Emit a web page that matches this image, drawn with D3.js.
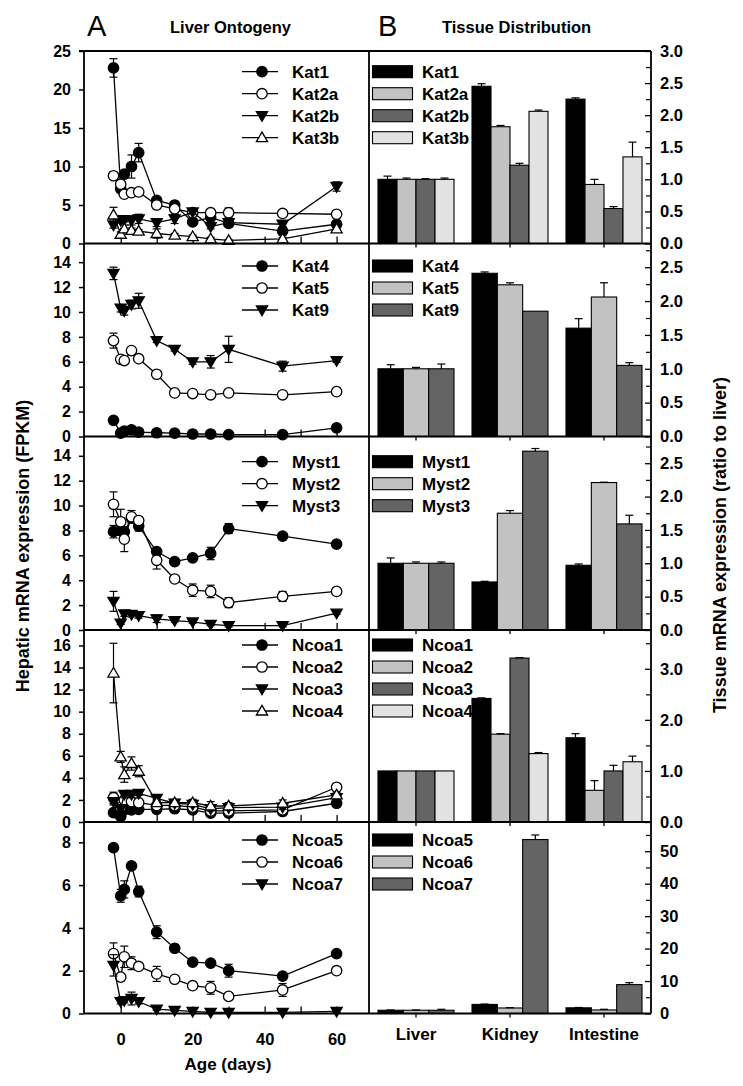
<!DOCTYPE html>
<html><head><meta charset="utf-8">
<script src="https://cdn.jsdelivr.net/npm/d3@7"></script>
<style>
body{margin:0;background:#fff}
text{font-family:"Liberation Sans",Arial,Helvetica,sans-serif;font-weight:bold;fill:#000}
</style>
</head><body>
<svg id="chart" width="743" height="1086"></svg>
<script>
// ---------- DATA ----------
const ages = [-2, 0, 1, 3, 5, 10, 15, 20, 25, 30, 45, 60];
const ageTicks = [0, 20, 40, 60];
const tissues = ["Liver", "Kidney", "Intestine"];

// Panel 1 (Kat1, Kat2a, Kat2b, Kat3b)
const kat1 = [22.8, 7.1, 9.0, 10.0, 11.8, 5.6, 5.0, 2.8, 3.4, 2.6, 1.6, 2.5];
const kat1Err = [1.2, 0.4, 0.4, 1.5, 1.2, 0.3, 0.2, 0.2, 0.3, 0.2, 0.2, 0.3];
const kat2a = [8.8, 7.7, 6.4, 6.6, 6.7, 5.0, 4.5, 4.0, 4.0, 4.0, 3.9, 3.8];
const kat2aErr = [0.3, 0.4, 0.3, 0.3, 0.3, 0.3, 0.3, 0.3, 0.3, 0.6, 0.3, 0.3];
const kat2b = [2.4, 3.0, 3.1, 3.0, 3.2, 2.7, 3.2, 4.1, 2.2, 2.7, 2.5, 7.4];
const kat2bErr = [0.4, 0.3, 0.3, 0.6, 0.6, 0.5, 0.6, 0.3, 0.3, 0.4, 0.3, 0.6];
const kat3b = [3.7, 1.2, 1.9, 1.7, 1.6, 1.3, 1.1, 0.9, 0.6, 0.4, 0.6, 1.9];
const kat3bErr = [1.0, 0.3, 0.5, 0.3, 0.2, 0.6, 0.2, 0.2, 0.2, 0.1, 0.2, 0.3];

// Panel 2 (Kat4, Kat5, Kat9)
const kat4 = [1.3, 0.27, 0.43, 0.54, 0.35, 0.3, 0.27, 0.2, 0.2, 0.15, 0.15, 0.7];
const kat4Err = [0.15, 0.05, 0.05, 0.05, 0.05, 0.05, 0.05, 0.05, 0.05, 0.05, 0.05, 0.05];
const kat5 = [7.7, 6.2, 6.1, 6.9, 6.25, 5.0, 3.5, 3.45, 3.35, 3.5, 3.35, 3.6];
const kat5Err = [0.6, 0.2, 0.2, 0.2, 0.2, 0.15, 0.15, 0.1, 0.1, 0.1, 0.1, 0.1];
const kat9 = [13.1, 10.3, 10.1, 10.6, 10.9, 7.7, 7.0, 6.0, 6.0, 7.0, 5.65, 6.1];
const kat9Err = [0.5, 0.3, 0.35, 0.35, 0.6, 0.15, 0.15, 0.2, 0.5, 1.05, 0.4, 0.15];

// Panel 3 (Myst1, Myst2, Myst3)
const myst1 = [7.9, 8.0, 7.9, 9.0, 8.35, 6.3, 5.5, 5.8, 6.15, 8.15, 7.55, 6.9];
const myst1Err = [0.5, 0.4, 0.3, 0.3, 0.4, 0.3, 0.2, 0.2, 0.5, 0.4, 0.2, 0.2];
const myst2 = [10.1, 8.7, 7.3, 9.1, 8.8, 5.6, 4.1, 3.2, 3.1, 2.2, 2.7, 3.1];
const myst2Err = [1.0, 1.0, 1.0, 0.5, 0.3, 0.7, 0.2, 0.5, 0.5, 0.4, 0.4, 0.2];
const myst3 = [2.3, 0.55, 1.3, 1.25, 1.15, 0.9, 0.75, 0.65, 0.45, 0.35, 0.35, 1.35];
const myst3Err = [0.8, 0.1, 0.2, 0.2, 0.2, 0.3, 0.1, 0.1, 0.1, 0.1, 0.1, 0.1];

// Panel 4 (Ncoa1..Ncoa4)
const ncoa1 = [0.85, 0.5, 1.1, 1.1, 1.15, 1.15, 1.2, 1.1, 0.8, 0.8, 0.95, 1.7];
const ncoa1Err = [0.1, 0.1, 0.1, 0.1, 0.1, 0.1, 0.1, 0.1, 0.1, 0.1, 0.1, 0.1];
const ncoa2 = [2.2, 1.3, 2.0, 1.85, 1.75, 1.5, 1.5, 1.35, 1.0, 1.0, 1.1, 3.15];
const ncoa2Err = [0.5, 0.3, 0.3, 0.2, 0.2, 0.2, 0.2, 0.2, 0.2, 0.2, 0.2, 0.1];
const ncoa3 = [1.85, 1.2, 2.5, 2.5, 2.6, 2.15, 1.7, 1.6, 1.2, 1.3, 1.35, 2.2];
const ncoa3Err = [0.3, 0.2, 0.3, 0.3, 0.2, 0.2, 0.2, 0.2, 0.2, 0.2, 0.2, 0.2];
const ncoa4 = [13.5, 5.9, 4.3, 5.3, 4.6, 1.75, 1.75, 1.75, 1.45, 1.45, 1.7, 2.45];
const ncoa4Err = [2.7, 0.5, 0.7, 0.6, 0.5, 0.3, 0.3, 0.3, 0.4, 0.3, 0.3, 0.2];

// Panel 5 (Ncoa5, Ncoa6, Ncoa7)
const ncoa5 = [7.75, 5.5, 5.8, 6.9, 5.7, 3.8, 3.05, 2.4, 2.35, 2.0, 1.75, 2.8];
const ncoa5Err = [0.1, 0.3, 0.4, 0.1, 0.25, 0.3, 0.1, 0.1, 0.1, 0.3, 0.1, 0.1];
const ncoa6 = [2.8, 1.7, 2.65, 2.35, 2.2, 1.85, 1.6, 1.3, 1.2, 0.8, 1.1, 2.0];
const ncoa6Err = [0.5, 0.1, 0.5, 0.3, 0.1, 0.35, 0.1, 0.1, 0.3, 0.1, 0.3, 0.1];
const ncoa7 = [2.25, 0.55, 0.6, 0.7, 0.55, 0.2, 0.15, 0.1, 0.05, 0.05, 0.05, 0.1];
const ncoa7Err = [0.5, 0.1, 0.1, 0.3, 0.1, 0.05, 0.05, 0.05, 0.05, 0.05, 0.05, 0.05];

// Tissue distribution (ratio to liver), values per tissue [Liver, Kidney, Intestine]
const tKat1 = [1.0, 2.45, 2.25],  tKat1Err = [0.05, 0.04, 0.02];
const tKat2a = [1.0, 1.82, 0.92], tKat2aErr = [0.02, 0.02, 0.08];
const tKat2b = [1.0, 1.22, 0.545], tKat2bErr = [0.01, 0.03, 0.03];
const tKat3b = [1.0, 2.06, 1.35], tKat3bErr = [0.02, 0.02, 0.23];
const tKat4 = [1.0, 2.41, 1.6],   tKat4Err = [0.06, 0.02, 0.14];
const tKat5 = [1.0, 2.24, 2.06],  tKat5Err = [0.02, 0.03, 0.21];
const tKat9 = [1.0, 1.85, 1.05],  tKat9Err = [0.07, 0.0, 0.04];
const tMyst1 = [1.0, 0.72, 0.97], tMyst1Err = [0.08, 0.01, 0.02];
const tMyst2 = [1.0, 1.75, 2.21], tMyst2Err = [0.02, 0.04, 0.005];
const tMyst3 = [1.0, 2.68, 1.59], tMyst3Err = [0.02, 0.04, 0.13];
const tNcoa1 = [1.0, 2.42, 1.65], tNcoa1Err = [0.0, 0.01, 0.08];
const tNcoa2 = [1.0, 1.72, 0.62], tNcoa2Err = [0.0, 0.01, 0.19];
const tNcoa3 = [1.0, 3.21, 1.0],  tNcoa3Err = [0.0, 0.01, 0.11];
const tNcoa4 = [1.0, 1.34, 1.18], tNcoa4Err = [0.0, 0.02, 0.11];
const tNcoa5 = [1.0, 2.8, 1.75],  tNcoa5Err = [0.1, 0.1, 0.1];
const tNcoa6 = [1.0, 1.7, 1.1],   tNcoa6Err = [0.1, 0.1, 0.2];
const tNcoa7 = [1.0, 53.6, 8.9],  tNcoa7Err = [0.3, 1.4, 0.6];

// Axis tick values
const leftTicks = [[0,5,10,15,20,25],[0,2,4,6,8,10,12,14],[0,2,4,6,8,10,12,14],[0,2,4,6,8,10,12,14,16],[0,2,4,6,8]];
const leftMax = [25, 15.5, 15.55, 17.4, 8.95];
const rightTicks = [[0,0.5,1,1.5,2,2.5,3],[0,0.5,1,1.5,2,2.5],[0,0.5,1,1.5,2,2.5],[0,1,2,3],[0,10,20,30,40,50]];
const rightMinorStep = [0.25, 0.25, 0.25, 0.5, 5];
const rightFmt = [".1f", ".1f", ".1f", ".1f", "d"];
const rightMax = [3, 2.85, 2.9, 3.76, 59];

// ---------- LAYOUT ----------
const svg = d3.select("#chart");
const xL0 = 84, xDiv = 369, xR1 = 651;
const rows = [51, 243.5, 436.5, 630, 822, 1013.5];
const legendY = [71.7, 266, 461.7, 645, 840];
const fills = {k: "#000000", l: "#c2c2c2", d: "#646464", v: "#e2e2e2"};

const lineSeries = [
  [{n:"Kat1",v:kat1,e:kat1Err,m:"fc"},{n:"Kat2a",v:kat2a,e:kat2aErr,m:"oc"},{n:"Kat2b",v:kat2b,e:kat2bErr,m:"ft"},{n:"Kat3b",v:kat3b,e:kat3bErr,m:"ot"}],
  [{n:"Kat4",v:kat4,e:kat4Err,m:"fc"},{n:"Kat5",v:kat5,e:kat5Err,m:"oc"},{n:"Kat9",v:kat9,e:kat9Err,m:"ft"}],
  [{n:"Myst1",v:myst1,e:myst1Err,m:"fc"},{n:"Myst2",v:myst2,e:myst2Err,m:"oc"},{n:"Myst3",v:myst3,e:myst3Err,m:"ft"}],
  [{n:"Ncoa1",v:ncoa1,e:ncoa1Err,m:"fc"},{n:"Ncoa2",v:ncoa2,e:ncoa2Err,m:"oc"},{n:"Ncoa3",v:ncoa3,e:ncoa3Err,m:"ft"},{n:"Ncoa4",v:ncoa4,e:ncoa4Err,m:"ot"}],
  [{n:"Ncoa5",v:ncoa5,e:ncoa5Err,m:"fc"},{n:"Ncoa6",v:ncoa6,e:ncoa6Err,m:"oc"},{n:"Ncoa7",v:ncoa7,e:ncoa7Err,m:"ft"}]
];
const barSeries = [
  [{n:"Kat1",v:tKat1,e:tKat1Err,c:"k"},{n:"Kat2a",v:tKat2a,e:tKat2aErr,c:"l"},{n:"Kat2b",v:tKat2b,e:tKat2bErr,c:"d"},{n:"Kat3b",v:tKat3b,e:tKat3bErr,c:"v"}],
  [{n:"Kat4",v:tKat4,e:tKat4Err,c:"k"},{n:"Kat5",v:tKat5,e:tKat5Err,c:"l"},{n:"Kat9",v:tKat9,e:tKat9Err,c:"d"}],
  [{n:"Myst1",v:tMyst1,e:tMyst1Err,c:"k"},{n:"Myst2",v:tMyst2,e:tMyst2Err,c:"l"},{n:"Myst3",v:tMyst3,e:tMyst3Err,c:"d"}],
  [{n:"Ncoa1",v:tNcoa1,e:tNcoa1Err,c:"k"},{n:"Ncoa2",v:tNcoa2,e:tNcoa2Err,c:"l"},{n:"Ncoa3",v:tNcoa3,e:tNcoa3Err,c:"d"},{n:"Ncoa4",v:tNcoa4,e:tNcoa4Err,c:"v"}],
  [{n:"Ncoa5",v:tNcoa5,e:tNcoa5Err,c:"k"},{n:"Ncoa6",v:tNcoa6,e:tNcoa6Err,c:"l"},{n:"Ncoa7",v:tNcoa7,e:tNcoa7Err,c:"d"}]
];

const x = d3.scaleLinear().domain([-10.2, 69]).range([xL0, xDiv]);
const xBand = d3.scaleBand().domain(tissues).range([xDiv, xR1]).padding(0);

function marker(g, type, cx, cy) {
  const sw = 1.3;
  if (type === "fc" || type === "oc") {
    g.append("circle").attr("cx", cx).attr("cy", cy).attr("r", 5.2)
      .attr("fill", type === "fc" ? "#000" : "#fff").attr("stroke", "#000").attr("stroke-width", sw);
  } else {
    const s = 5.6;
    const pts = type === "ft"
      ? [[cx - s, cy - 4], [cx + s, cy - 4], [cx, cy + 5.6]]
      : [[cx - s, cy + 4], [cx + s, cy + 4], [cx, cy - 5.6]];
    g.append("path").attr("d", d3.line()(pts) + "Z")
      .attr("fill", type === "ft" ? "#000" : "#fff").attr("stroke", "#000").attr("stroke-width", sw);
  }
}

for (let p = 0; p < 5; p++) {
  const top = rows[p], bot = rows[p + 1];
  const y = d3.scaleLinear().domain([0, leftMax[p]]).range([bot, top]);
  const yr = d3.scaleLinear().domain([0, rightMax[p]]).range([bot, top]);

  // ---- left: line chart ----
  const gl = svg.append("g");
  const xt = gl.append("g").attr("transform", `translate(0,${bot})`)
    .call(d3.axisBottom(x).tickValues(d3.range(0, 61, 10)).tickSize(-7).tickFormat(p === 4 ? (d => (d % 20 === 0 ? d : "")) : () => ""));
  xt.select(".domain").remove();
  xt.selectAll("line").attr("stroke-width", 1.3);
  xt.selectAll("text").attr("font-size", 16.5).attr("dy", "1.35em").attr("font-weight", "bold");
  if (p === 4) xt.selectAll("text").attr("transform", "translate(0,6)");

  const ya = gl.append("g").attr("transform", `translate(${xL0},0)`)
    .call(d3.axisLeft(y).tickValues(leftTicks[p]).tickSize(5).tickPadding(8));
  ya.select(".domain").remove();
  ya.selectAll("line").attr("stroke-width", 1.5);
  ya.selectAll("text").attr("font-size", 16).attr("font-weight", "bold");

  const ser = lineSeries[p];
  ser.forEach(s => {
    const g = gl.append("g");
    const pts = ages.map((a, i) => [x(a), y(s.v[i])]);
    g.append("path").attr("d", d3.line()(pts)).attr("fill", "none").attr("stroke", "#000").attr("stroke-width", 1.3);
    ages.forEach((a, i) => {
      const cx = x(a), y1 = y(s.v[i] + s.e[i]), y2 = y(Math.max(0, s.v[i] - s.e[i]));
      g.append("line").attr("x1", cx).attr("x2", cx).attr("y1", y1).attr("y2", y2).attr("stroke", "#000").attr("stroke-width", 1.2);
      [y1, y2].forEach(yy => g.append("line").attr("x1", cx - 4).attr("x2", cx + 4).attr("y1", yy).attr("y2", yy).attr("stroke", "#000").attr("stroke-width", 1.2));
    });
    ages.forEach((a, i) => marker(g, s.m, x(a), y(s.v[i])));
  });
  // legend left
  ser.forEach((s, i) => {
    const ly = legendY[p] + i * 22;
    gl.append("line").attr("x1", 242).attr("x2", 278).attr("y1", ly).attr("y2", ly).attr("stroke", "#000").attr("stroke-width", 1.3);
    marker(gl, s.m, 262, ly);
    gl.append("text").attr("x", 292).attr("y", ly + 6).attr("font-size", 17).text(s.n);
  });

  // ---- right: bar chart ----
  const gr = svg.append("g");
  const bs = barSeries[p];
  // legend right (drawn beneath the bars)
  bs.forEach((s, i) => {
    const ly = legendY[p] + i * 22;
    gr.append("rect").attr("x", 372.5).attr("y", ly - 6).attr("width", 40).attr("height", 12)
      .attr("fill", fills[s.c]).attr("stroke", "#000").attr("stroke-width", 1.1);
    gr.append("text").attr("x", 422).attr("y", ly + 6).attr("font-size", 17).text(s.n);
  });
  const inner = d3.scaleBand().domain(bs.map(s => s.n)).range([9, 85]).padding(0);
  bs.forEach(s => {
    tissues.forEach((t, i) => {
      const bx = xBand(t) + inner(s.n), bw = inner.bandwidth();
      gr.append("rect").attr("x", bx).attr("y", yr(s.v[i])).attr("width", bw).attr("height", yr(0) - yr(s.v[i]))
        .attr("fill", fills[s.c]).attr("stroke", "#000").attr("stroke-width", 1.1);
      if (s.e[i] > 0) {
        const cx = bx + bw / 2, ye = yr(s.v[i] + s.e[i]);
        gr.append("line").attr("x1", cx).attr("x2", cx).attr("y1", yr(s.v[i])).attr("y2", ye).attr("stroke", "#000").attr("stroke-width", 1.2);
        gr.append("line").attr("x1", cx - 4).attr("x2", cx + 4).attr("y1", ye).attr("y2", ye).attr("stroke", "#000").attr("stroke-width", 1.2);
      }
    });
  });
  const ct = gr.append("g").attr("transform", `translate(0,${bot})`)
    .call(d3.axisBottom(xBand).tickSize(4).tickPadding(10).tickFormat(p === 4 ? (d => d) : () => ""));
  ct.select(".domain").remove();
  ct.selectAll("line").attr("stroke-width", 1.3);
  ct.selectAll("text").attr("font-size", 17).attr("font-weight", "bold");

  const ra = gr.append("g").attr("transform", `translate(${xR1},0)`)
    .call(d3.axisRight(yr).tickValues(rightTicks[p]).tickSize(-6).tickPadding(9).tickFormat(d3.format(rightFmt[p])));
  ra.select(".domain").remove();
  ra.selectAll("line").attr("stroke-width", 1.3);
  ra.selectAll("text").attr("font-size", 16.5).attr("font-weight", "bold");
  const minor = d3.range(0, rightMax[p] + 1e-9, rightMinorStep[p]).filter(v => !rightTicks[p].some(t => Math.abs(t - v) < 1e-9));
  const rm = gr.append("g").attr("transform", `translate(${xR1},0)`)
    .call(d3.axisRight(yr).tickValues(minor).tickSize(-5).tickFormat(""));
  rm.select(".domain").remove();
  rm.selectAll("line").attr("stroke-width", 1.2);

  svg.append("line").attr("x1", xL0).attr("x2", xR1).attr("y1", bot).attr("y2", bot).attr("stroke", "#000").attr("stroke-width", 1.8);
}

// frame
const frame = svg.append("g").attr("stroke", "#000").attr("stroke-width", 1.8);
frame.append("line").attr("x1", 79).attr("x2", xR1).attr("y1", rows[0]).attr("y2", rows[0]);
frame.append("line").attr("x1", xL0).attr("x2", xL0).attr("y1", rows[0]).attr("y2", rows[5]);
frame.append("line").attr("x1", xDiv).attr("x2", xDiv).attr("y1", rows[0]).attr("y2", rows[5]);
frame.append("line").attr("x1", xR1).attr("x2", xR1).attr("y1", rows[0]).attr("y2", rows[5]);

// titles
svg.append("text").attr("x", 87).attr("y", 36).attr("font-size", 29).style("font-weight", "normal").text("A");
svg.append("text").attr("x", 170).attr("y", 33).attr("font-size", 16.5).text("Liver Ontogeny");
svg.append("text").attr("x", 378).attr("y", 36).attr("font-size", 29).style("font-weight", "normal").text("B");
svg.append("text").attr("x", 442).attr("y", 33).attr("font-size", 16.5).text("Tissue Distribution");
svg.append("text").attr("x", 228).attr("y", 1070).attr("text-anchor", "middle").attr("font-size", 17).text("Age (days)");
svg.append("text").attr("transform", "translate(29,546) rotate(-90)").attr("text-anchor", "middle").attr("font-size", 18).text("Hepatic mRNA expression (FPKM)");
svg.append("text").attr("transform", "translate(726,545) rotate(-90)").attr("text-anchor", "middle").attr("font-size", 18).text("Tissue mRNA expression (ratio to liver)");
</script>
</body></html>
